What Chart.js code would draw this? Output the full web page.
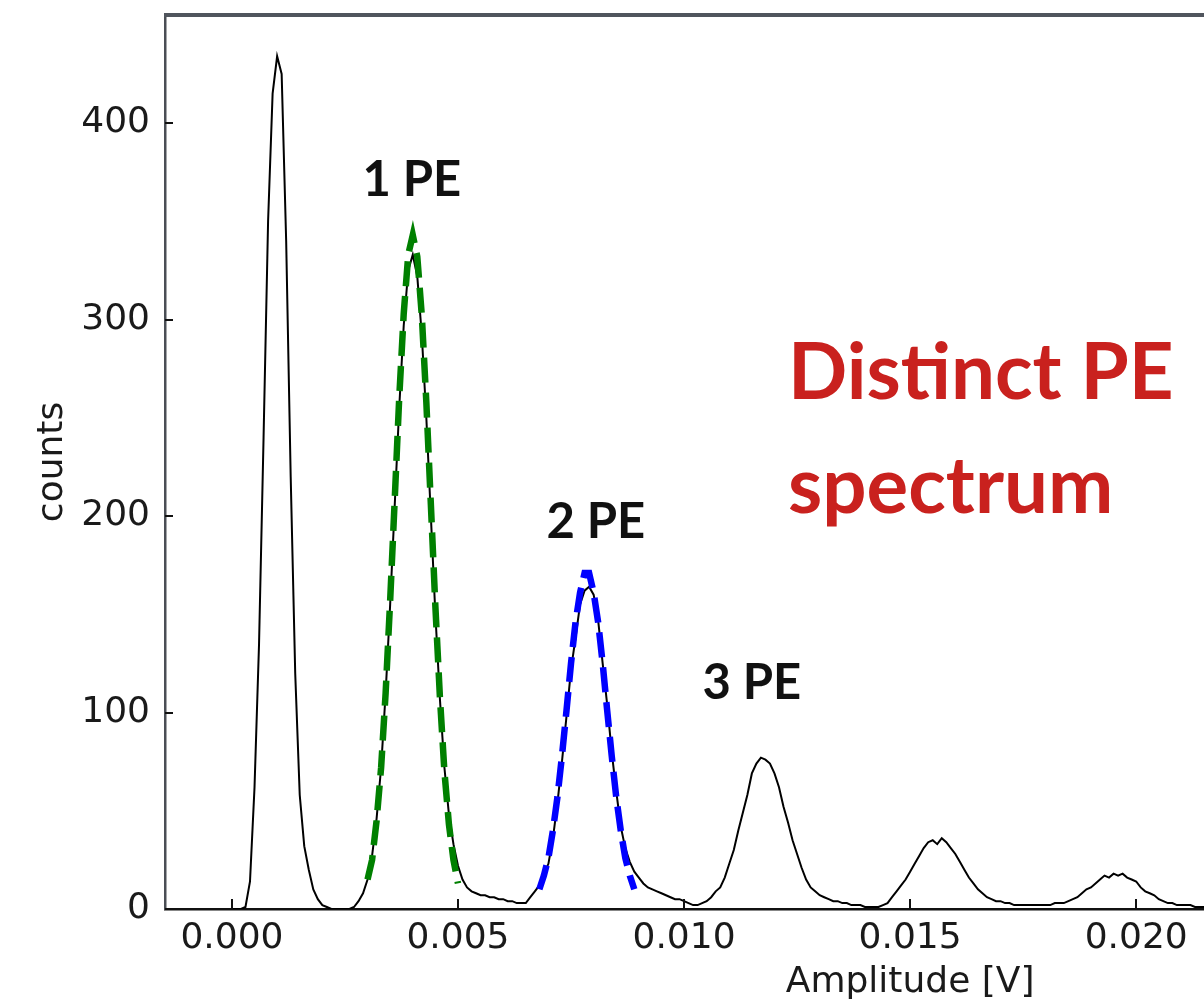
<!DOCTYPE html>
<html>
<head>
<meta charset="utf-8">
<script src="https://cdn.jsdelivr.net/npm/chart.js@4.4.1/dist/chart.umd.min.js"></script>
<style>
  html, body { margin: 0; padding: 0; background: #fff; overflow: hidden; }
  #wrap { width: 1204px; height: 1004px; }
</style>
</head>
<body>
<div id="wrap"><canvas id="peChart"></canvas></div>
<script>
// amplitude histogram, 0.1 mV bins starting at 0 V
var binStart = 0.0;
var binWidth = 0.0001;
var counts = [
    0, 0, 0, 1, 14, 62, 135, 240, 350, 415,
    434, 425, 340, 220, 120, 58, 32, 20, 10, 5,
    2, 1, 0, 0, 0, 0, 0, 1, 4, 8,
    15, 27, 46, 72, 110, 155, 205, 255, 297, 325,
    333, 322, 292, 250, 200, 150, 107, 72, 48, 33,
    22, 15, 11, 9, 8, 7, 7, 6, 6, 5,
    5, 4, 4, 3, 3, 3, 6, 9, 12, 18,
    23, 36, 54, 75, 98, 122, 138, 155, 162, 164,
    160, 147, 125, 104, 80, 60, 42, 31, 24, 19,
    16, 13, 11, 10, 9, 8, 7, 6, 5, 5,
    4, 3, 2, 2, 3, 4, 6, 9, 11, 16,
    23, 30, 40, 49, 58, 69, 74, 77, 76, 74,
    69, 62, 52, 44, 35, 28, 21, 15, 11, 9,
    7, 6, 5, 4, 4, 3, 3, 2, 2, 2,
    1, 1, 1, 1, 2, 3, 6, 9, 12, 15,
    19, 23, 27, 31, 34, 35, 33, 36, 34, 31,
    28, 24, 20, 16, 13, 10, 8, 6, 5, 4,
    4, 3, 3, 2, 2, 2, 2, 2, 2, 2,
    2, 2, 3, 3, 3, 4, 5, 6, 8, 10,
    11, 13, 15, 17, 16, 18, 17, 18, 16, 15,
    14, 11, 9, 8, 7, 5, 4, 3, 3, 2,
    2, 2, 2, 1, 1, 1
];

// gaussian fits drawn over the 1 PE and 2 PE peaks
var fit1Amp = [0.0030, 0.0031, 0.0032, 0.0033, 0.0034, 0.0035, 0.0036, 0.0037, 0.0038, 0.0039, 0.0040,
               0.0041, 0.0042, 0.0043, 0.0044, 0.0045, 0.0046, 0.0047, 0.0048, 0.0049, 0.0050];
var fit1Counts = [15, 25, 45, 72, 110, 157, 208, 260, 303, 333, 343,
                  332, 302, 258, 206, 154, 108, 70, 43, 25, 13];
var fit2Amp = [0.0068, 0.0069, 0.0070, 0.0071, 0.0072, 0.0073, 0.0074, 0.0075, 0.0076, 0.0077, 0.0078,
               0.0079, 0.0080, 0.0081, 0.0082, 0.0083, 0.0084, 0.0085, 0.0086, 0.0087, 0.0088, 0.0089];
var fit2Counts = [10, 17, 26, 40, 57, 78, 101, 125, 146, 161, 171,
                  171, 161, 146, 125, 101, 78, 57, 40, 26, 17, 10];

var xTicks = [0.000, 0.005, 0.010, 0.015, 0.020];
var xTickLabels = ['0.000', '0.005', '0.010', '0.015', '0.020'];
var yTicks = [0, 100, 200, 300, 400];
var yTickLabels = ['0', '100', '200', '300', '400'];

var peakLabels = ['1 PE', '2 PE', '3 PE'];
var peakLabelAt = [[0.00398, 363], [0.00805, 189], [0.0115, 107]];
var noteLines = ['Distinct PE', 'spectrum'];
var noteAt = [[0.0123, 259.5], [0.0123, 201.5]];

var histPoints = counts.map(function(c, i) { return {x: binStart + i * binWidth, y: c}; });
var fit1Points = fit1Amp.map(function(a, i) { return {x: a, y: fit1Counts[i]}; });
var fit2Points = fit2Amp.map(function(a, i) { return {x: a, y: fit2Counts[i]}; });

var tickFont = {family: 'DejaVu Sans', size: 36};

// frame top edge, inward tick marks and the text labels
var decorations = {
    id: 'decorations',
    afterDraw: function(chart) {
        var ctx = chart.ctx, a = chart.chartArea;
        var xs = chart.scales.x, ys = chart.scales.y;
        ctx.save();
        ctx.strokeStyle = '#50555d';
        ctx.lineWidth = 4;
        ctx.beginPath();
        ctx.moveTo(a.left - 1, a.top);
        ctx.lineTo(a.right, a.top);
        ctx.stroke();

        ctx.strokeStyle = '#111';
        ctx.lineWidth = 2;
        xTicks.forEach(function(v) {
            var px = Math.round(xs.getPixelForValue(v));
            ctx.beginPath();
            ctx.moveTo(px, a.bottom);
            ctx.lineTo(px, a.bottom - 10);
            ctx.stroke();
        });
        yTicks.forEach(function(v) {
            var py = Math.round(ys.getPixelForValue(v));
            ctx.beginPath();
            ctx.moveTo(a.left, py);
            ctx.lineTo(a.left + 8, py);
            ctx.stroke();
        });

        ctx.fillStyle = '#1a1a1a';
        ctx.font = '36px "DejaVu Sans"';
        ctx.textAlign = 'center';
        ctx.textBaseline = 'alphabetic';
        ctx.fillText('Amplitude [V]', xs.getPixelForValue(0.015), a.bottom + 83);

        ctx.fillStyle = '#111';
        ctx.font = 'bold 49px Lato';
        peakLabels.forEach(function(t, i) {
            ctx.fillText(t, xs.getPixelForValue(peakLabelAt[i][0]), ys.getPixelForValue(peakLabelAt[i][1]));
        });

        ctx.fillStyle = '#c9211e';
        ctx.font = 'bold 78px Lato';
        ctx.textAlign = 'left';
        noteLines.forEach(function(t, i) {
            ctx.fillText(t, xs.getPixelForValue(noteAt[i][0]), ys.getPixelForValue(noteAt[i][1]));
        });
        ctx.restore();
    }
};

var ctx = document.getElementById('peChart').getContext('2d');
var peChart = new Chart(ctx, {
    type: 'line',
    data: {
        datasets: [{
            label: '1 PE fit',
            data: fit1Points,
            borderColor: '#008000',
            borderWidth: 6.5,
            borderDash: [25, 10],
            pointRadius: 0,
            fill: false,
            order: 1
        }, {
            label: '2 PE fit',
            data: fit2Points,
            borderColor: '#0000ff',
            borderWidth: 6.5,
            borderDash: [25, 10],
            pointRadius: 0,
            fill: false,
            order: 1
        }, {
            label: 'counts',
            data: histPoints,
            borderColor: '#000',
            borderWidth: 2,
            tension: 0,
            pointRadius: 0,
            fill: false,
            order: 2
        }]
    },
    options: {
        responsive: true,
        maintainAspectRatio: false,
        animation: false,
        layout: { padding: { top: 15, right: 0, bottom: 0, left: 0 } },
        scales: {
            x: {
                type: 'linear',
                min: -0.00148,
                max: 0.0215,
                afterBuildTicks: function(s) { s.ticks = xTicks.map(function(v) { return {value: v}; }); },
                afterFit: function(s) { s.height = 95; s.paddingLeft = 0; s.paddingRight = 0; },
                grid: { display: false, drawTicks: false },
                border: { display: true, color: '#111', width: 2.5 },
                ticks: {
                    padding: 8,
                    font: tickFont,
                    color: '#1a1a1a',
                    maxRotation: 0,
                    autoSkip: false,
                    callback: function(v, i) { return xTickLabels[i]; }
                }
            },
            y: {
                min: 0,
                max: 455,
                afterBuildTicks: function(s) { s.ticks = yTicks.map(function(v) { return {value: v}; }); },
                afterFit: function(s) { s.width = 165; s.paddingTop = 0; s.paddingBottom = 0; },
                grid: { display: false, drawTicks: false },
                border: { display: true, color: '#4a4e55', width: 2.5 },
                ticks: {
                    padding: 15,
                    font: tickFont,
                    color: '#1a1a1a',
                    callback: function(v, i) { return yTickLabels[i]; }
                },
                title: {
                    display: true,
                    text: 'counts',
                    font: tickFont,
                    color: '#1a1a1a',
                    padding: { top: 31, bottom: 0 }
                }
            }
        },
        plugins: {
            legend: { display: false },
            tooltip: { enabled: false }
        }
    },
    plugins: [decorations]
});
</script>
</body>
</html>
